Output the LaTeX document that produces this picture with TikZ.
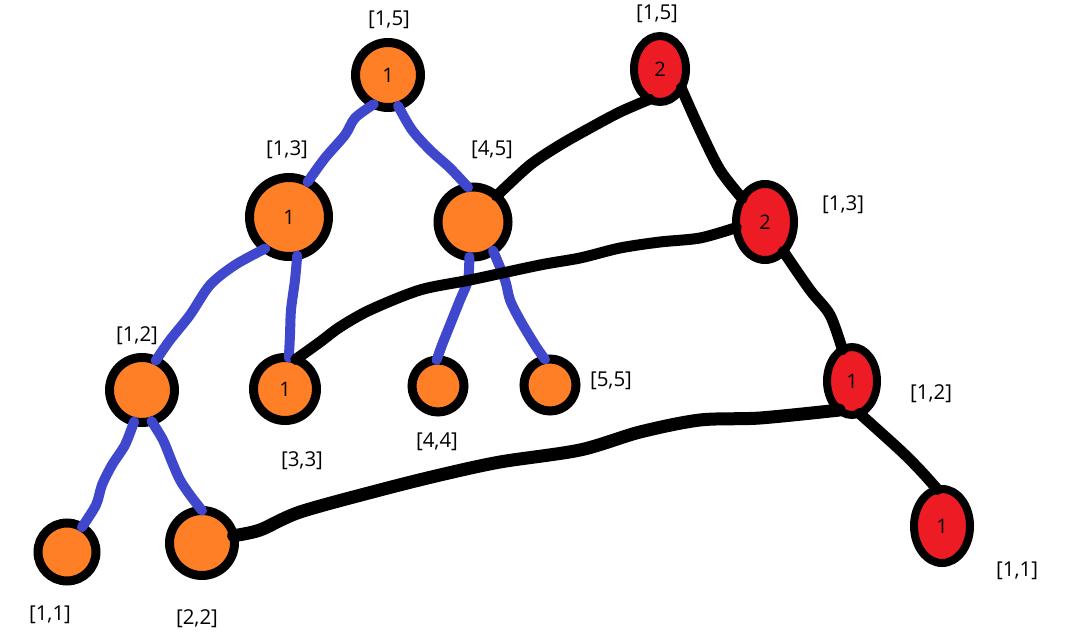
\documentclass[tikz,border=0pt]{standalone}
\usepackage{fontspec}
\setmainfont{Open Sans}
\usetikzlibrary{shapes.geometric}
\definecolor{porange}{RGB}{255,127,39}
\definecolor{pred}{RGB}{237,28,36}
\definecolor{pblue}{RGB}{63,72,204}
\tikzset{
  onode/.style={circle,draw=black,line width=9pt,fill=porange,inner sep=0pt,outer sep=0pt,minimum size=#1,font=\fontsize{20}{24}\selectfont},
  rnode/.style 2 args={ellipse,draw=black,line width=8pt,fill=pred,inner sep=0pt,outer sep=0pt,minimum width=#1,minimum height=#2,font=\fontsize{20}{24}\selectfont},
  lbl/.style={font=\fontsize{20.5}{24}\selectfont,inner sep=0pt},
  bedge/.style={draw=pblue,line width=10pt,line cap=round,line join=round},
  kedge/.style={draw=black,line width=11pt,line cap=round,line join=round},
}
\begin{document}
\begin{tikzpicture}[x=1pt,y=-1pt]
\useasboundingbox[fill=white] (0,0) rectangle (1070,636);
% orange segment tree nodes
\node[onode=65] (A) at (388,75) {1};
\node[onode=79] (B) at (289,217) {1};
\node[onode=70] (C) at (473,222) {};
\node[onode=63] (D) at (285,389) {1};
\node[onode=52] (E) at (438,386) {};
\node[onode=52] (F) at (550,385) {};
\node[onode=65] (G) at (142,390) {};
\node[onode=58] (H) at (67,552) {};
\node[onode=65] (I) at (202,543) {};
% red nodes
\node[rnode={52}{66}] (R1) at (660,69) {2};
\node[rnode={58}{76}] (R2) at (765,222) {2};
\node[rnode={50}{68}] (R3) at (852,381) {1};
\node[rnode={56}{74}] (R4) at (942,526) {1};
% labels
\node[lbl] (l1) at (389,20) {[1,5]};
\node[lbl] (l2) at (657,14) {[1,5]};
\node[lbl] (l3) at (287,150) {[1,3]};
\node[lbl] (l4) at (492,150) {[4,5]};
\node[lbl] (l5) at (843,205) {[1,3]};
\node[lbl] (l6) at (137,336) {[1,2]};
\node[lbl] (l7) at (611,381) {[5,5]};
\node[lbl] (l8) at (931,394) {[1,2]};
\node[lbl] (l9) at (302,461) {[3,3]};
\node[lbl] (l10) at (437,442) {[4,4]};
\node[lbl] (l11) at (50,615) {[1,1]};
\node[lbl] (l12) at (197,619) {[2,2]};
\node[lbl] (l13) at (1017,571) {[1,1]};
% blue edges
\draw[bedge] plot[smooth,tension=0.5] coordinates {(A.244) (355,118) (345,135) (325,158) (B.62)};
\draw[bedge] plot[smooth,tension=0.5] coordinates {(A.288) (412,130) (430,150) (450,168) (C.98)};
\draw[bedge] plot[smooth,tension=0.5] coordinates {(B.233) (235,265) (210,285) (190,315) (170,340) (G.65)};
\draw[bedge] plot[smooth,tension=0.5] coordinates {(B.282) (295,280) (291,310) (290,335) (D.83)};
\draw[bedge] plot[smooth,tension=0.5] coordinates {(C.264) (468,280) (460,300) (450,325) (442,345) (E.93)};
\draw[bedge] plot[smooth,tension=0.5] coordinates {(C.305) (505,280) (510,300) (520,320) (535,345) (F.101)};
\draw[bedge] plot[smooth,tension=0.5] coordinates {(G.256) (125,445) (112,465) (102,485) (96,505) (H.59)};
\draw[bedge] plot[smooth,tension=0.5] coordinates {(G.287) (163,440) (172,462) (180,480) (190,495) (I.90)};
% black edges
\draw[kedge] plot[smooth,tension=0.5] coordinates {(R1.318) (700,130) (720,170) (R2.134)};
\draw[kedge] plot[smooth,tension=0.5] coordinates {(R1.251) (620,112) (590,128) (560,145) (530,165) (C.48)};
\draw[kedge] plot[smooth,tension=0.5] coordinates {(R2.191) (700,238) (660,242) (620,248) (580,258) (540,265) (470,280) (420,290) (370,310) (340,327) (320,342) (D.70)};
\draw[kedge] plot[smooth,tension=0.5] coordinates {(R2.302) (810,290) (830,315) (R3.107)};
\draw[kedge,line width=13pt] plot[smooth,tension=0.5] coordinates {(R3.246) (760,418) (700,420) (640,432) (580,450) (500,462) (440,475) (380,490) (300,512) (260,530) (I.13)};
\draw[kedge] plot[smooth,tension=0.5] coordinates {(R3.283) (900,450) (920,470) (R4.97)};
\end{tikzpicture}
\end{document}
